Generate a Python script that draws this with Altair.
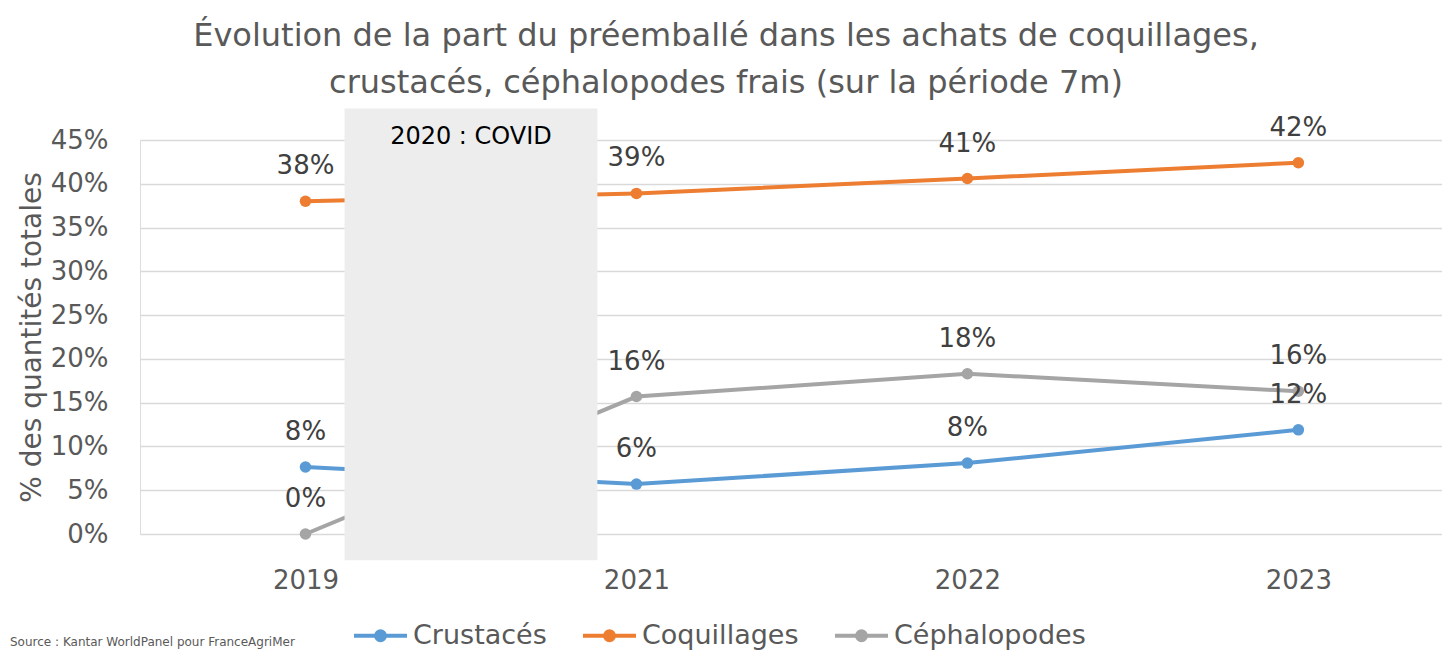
import altair as alt
import pandas as pd

# ---- data ----
years = ["2019", "2021", "2022", "2023"]
series = ["Crustacés", "Coquillages", "Céphalopodes"]
crustaces = [7.65, 5.7, 8.1, 11.9]
coquillages = [38.0, 38.9, 40.6, 42.4]
cephalopodes = [0.0, 15.7, 18.3, 16.3]
colors = ["#5b9bd5", "#ed7d31", "#a5a5a5"]
y_ticks = [0, 5, 10, 15, 20, 25, 30, 35, 40, 45]

covid_label = "2020 : COVID"
covid_start = [0.118]   # in category-index units (between 2019 and 2021)
covid_end = [0.882]
covid_bottom = [-3.0]   # in % units
covid_top = [48.6]
covid_text_y = [45.3]

title_lines = [
    "Évolution de la part du préemballé dans les achats de coquillages,",
    "crustacés, céphalopodes frais (sur la période 7m)",
]
y_title = "% des quantités totales"
source_text = "Source : Kantar WorldPanel pour FranceAgriMer"

# ---- tables ----
rows = []
for name, vals in zip(series, [crustaces, coquillages, cephalopodes]):
    for i, (yr, v) in enumerate(zip(years, vals)):
        rows.append({"pos": i, "year": yr, "series": name, "value": v})
df = pd.DataFrame(rows)

covid_df = pd.DataFrame({
    "pos": covid_start, "pos2": covid_end,
    "value": covid_bottom, "value2": covid_top,
    "mid": [(a + b) / 2 for a, b in zip(covid_start, covid_end)],
    "ty": covid_text_y, "label": [covid_label],
})

FONT = "DejaVu Sans"
GREY_TXT = "#595959"

label_expr = "[" + ",".join("'%s'" % y for y in years) + "][datum.value]"

x_enc = alt.X(
    "pos:Q",
    scale=alt.Scale(domain=[-0.5, 3.434], nice=False, zero=False),
    axis=alt.Axis(
        values=list(range(len(years))), labelExpr=label_expr, title=None,
        grid=False, ticks=False, domain=False, labelFontSize=26,
        labelColor=GREY_TXT, labelPadding=33, labelFont=FONT,
    ),
)
y_enc = alt.Y(
    "value:Q",
    scale=alt.Scale(domain=[0, 45], nice=False),
    axis=alt.Axis(
        values=y_ticks, labelExpr="datum.value + '%'", title=y_title,
        grid=True, gridColor="#d9d9d9", gridWidth=1.5, ticks=False,
        domain=False, labelFontSize=26, labelColor=GREY_TXT, labelPadding=32,
        labelFont=FONT, titleFont=FONT, titleFontSize=28, titleColor=GREY_TXT,
        titleFontWeight="normal", titlePadding=4,
    ),
)
legend_path = (
    "M-1,0L1,0"
    "M-0.17,0A0.17,0.17,0,1,0,0.17,0A0.17,0.17,0,1,0,-0.17,0"
    "M-0.06,0A0.06,0.06,0,1,0,0.06,0A0.06,0.06,0,1,0,-0.06,0"
)
color_line = alt.Color(
    "series:N",
    scale=alt.Scale(domain=series, range=colors),
    legend=alt.Legend(
        orient="none", legendX=212, legendY=467, direction="horizontal",
        title=None, labelFontSize=27, labelColor=GREY_TXT, labelFont=FONT,
        labelLimit=400,
        symbolType=legend_path, symbolSize=2809, symbolStrokeWidth=4,
        columnPadding=28, labelOffset=4,
    ),
)
color_pt = alt.Color("series:N", scale=alt.Scale(domain=series, range=colors), legend=None)

lines = alt.Chart(df).mark_line(strokeWidth=4).encode(
    x=x_enc, y=y_enc, color=color_line, detail="series:N"
)
points = alt.Chart(df).mark_point(filled=True, size=133, opacity=1).encode(
    x=x_enc, y=y_enc, color=color_pt
)
box = alt.Chart(covid_df).mark_rect(color="#ededed").encode(
    x=x_enc, x2="pos2:Q", y=y_enc, y2="value2:Q"
)
covid_txt = alt.Chart(covid_df).mark_text(
    fontSize=24, color="#000000", font=FONT, baseline="middle"
).encode(
    x=alt.X("mid:Q"), y=alt.Y("ty:Q"), text="label:N"
)
labels = alt.Chart(df).transform_calculate(
    lab="format(datum.value, '.0f') + '%'"
).mark_text(
    dy=-35, fontSize=26, color="#404040", font=FONT, baseline="middle"
).encode(x=x_enc, y=y_enc, text="lab:N")

source = alt.Chart(covid_df).mark_text(
    align="left", baseline="bottom", fontSize=12, color=GREY_TXT, font=FONT
).encode(x=alt.value(-130), y=alt.value(509), text=alt.value(source_text))

chart = alt.layer(lines, points, box, covid_txt, labels, source).properties(
    width=1302,
    height=394,
    title=alt.Title(
        text=title_lines, fontSize=32, color=GREY_TXT, fontWeight="normal",
        font=FONT, anchor="middle", frame="bounds", lineHeight=47, offset=8,
    ),
    autosize=alt.AutoSizeParams(type="none"),
    padding={"left": 132, "top": 132, "right": 0, "bottom": 117},
).configure_view(stroke=None).configure(font=FONT)

chart.save("out.html", embed_options={"renderer": "svg", "actions": False})
